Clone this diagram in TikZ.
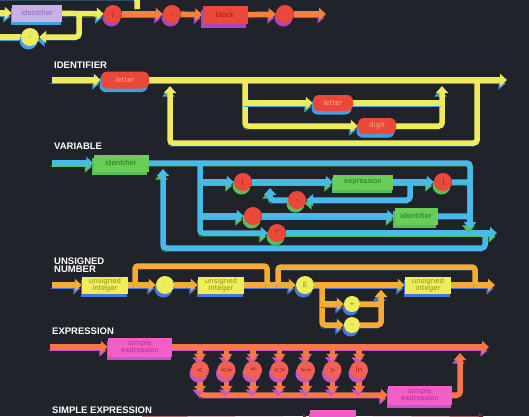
\documentclass[tikz,border=0pt]{standalone}
\usepackage{fontspec}
\setmainfont{Liberation Sans}
\newfontfamily\termfamily{DejaVu Sans}
\usetikzlibrary{arrows.meta, shadows}
\definecolor{boarddark}{RGB}{33,35,42}
\definecolor{lemonline}{RGB}{238,236,92}
\definecolor{skyshade}{RGB}{64,160,228}
\definecolor{tangerine}{RGB}{250,128,60}
\definecolor{plumshade}{RGB}{170,70,190}
\definecolor{tomato}{RGB}{236,72,58}
\definecolor{tomatoink}{RGB}{150,25,25}
\definecolor{lettertext}{RGB}{255,175,140}
\definecolor{lavender}{RGB}{200,175,232}
\definecolor{lavenderink}{RGB}{140,95,185}
\definecolor{cyanline}{RGB}{72,186,232}
\definecolor{leafshade}{RGB}{84,190,92}
\definecolor{leafbox}{RGB}{104,206,86}
\definecolor{leafink}{RGB}{40,110,40}
\definecolor{amberline}{RGB}{246,172,52}
\definecolor{navyshade}{RGB}{70,120,215}
\definecolor{lemonbox}{RGB}{238,238,90}
\definecolor{oliveink}{RGB}{140,140,40}
\definecolor{coralline}{RGB}{250,118,72}
\definecolor{magentashade}{RGB}{196,86,200}
\definecolor{pinkbox}{RGB}{240,96,200}
\definecolor{pinkink}{RGB}{175,40,150}
\definecolor{coraltok}{RGB}{240,96,84}
\definecolor{seline}{RGB}{150,40,40}
\newcommand{\headfont}{\bfseries\fontsize{9.5}{8.5}\selectfont}
\newcommand{\termfont}{\termfamily\fontsize{7}{6.8}\selectfont}
\pgfdeclarelayer{board}
\pgfdeclarelayer{wires}
\pgfsetlayers{board,wires,main}
\tikzset{
  band/.style 2 args={draw=#1, line width=5.5pt, rounded corners=3pt,
    preaction={draw=#2, transform canvas={shift={(-1.5pt,-3.5pt)}}}},
  yband/.style={band={lemonline}{skyshade}},
  oband/.style={band={tangerine}{plumshade}},
  cband/.style={band={cyanline}{leafshade}},
  nband/.style={band={amberline}{navyshade}},
  eband/.style={band={coralline}{magentashade}},
  go/.style={-{Triangle[length=7pt,width=12pt]}},
  castshade/.style={drop shadow={shadow xshift=-1.5pt, shadow yshift=-3.5pt, opacity=1, fill=#1}},
  termbox/.style 2 args={rectangle, minimum height=17pt, inner sep=1pt, align=center,
    fill=#1, castshade=#2, font=\termfont},
  letterbox/.style={termbox={tomato}{skyshade}, rounded corners=6pt, text=lettertext},
  greenbox/.style={termbox={leafbox}{leafshade}, text=leafink},
  intbox/.style={termbox={lemonbox}{navyshade}, minimum width=46pt, text=oliveink},
  sebox/.style={termbox={pinkbox}{magentashade}, minimum width=64pt, minimum height=19pt, text=pinkink},
  tok/.style 2 args={circle, minimum size=18pt, inner sep=0pt, fill=#1, castshade=#2, font=\termfont},
  heading/.style={anchor=west, align=left, inner sep=0pt, text=white, font=\headfont}
}
\begin{document}
\begin{tikzpicture}[x=1pt, y=-1pt]
  \begin{pgfonlayer}{board}
    \fill[boarddark] (0,0) rectangle (529,416);
  \end{pgfonlayer}
  \useasboundingbox (0,0) rectangle (529,416);

  % program (tail, cut by the top edge)
  \node[termbox={lavender}{skyshade}, minimum width=50pt, text=lavenderink] (progid) at (37,13) {identifier};
  \node[tok={lemonline}{skyshade}, text=oliveink] (progcomma) at (30,37) {,};
  \node[tok={tomato}{plumshade}, text=tomatoink] (progrpar) at (113,14) {)};
  \node[tok={tomato}{plumshade}, text=tomatoink] (progsemi) at (172,14) {;};
  \node[termbox={tomato}{plumshade}, minimum width=45pt, minimum height=18pt, text=tomatoink] (progblock) at (225,15) {block};
  \node[tok={tomato}{plumshade}, text=tomatoink] (progdot) at (285,14) {.};
  \coordinate (progin) at (-2,13);
  \coordinate (progloop) at (79,13);
  \coordinate (progcommaout) at (-2,37);
  \coordinate (progtop) at (-2,-3);
  \coordinate (progdrop) at (137,9);
  \coordinate (progout) at (326,14);
  \begin{pgfonlayer}{wires}
    \draw[yband, go] (progin) -- (progid);
    \draw[yband, go] (progid) -- (progrpar);
    \draw[yband, go] (progloop) |- (progcomma);
    \draw[yband] (progcomma) -- (progcommaout);
    \draw[yband] (progtop) -| (progdrop);
    \draw[oband, go] (progrpar) -- (progsemi);
    \draw[oband, go] (progsemi) -- (progblock);
    \draw[oband, go] (progblock) -- (progdot);
    \draw[oband, go] (progdot) -- (progout);
  \end{pgfonlayer}

  % identifier
  \node[heading] (identhead) at (54,65) {IDENTIFIER};
  \node[letterbox, minimum width=48pt] (identletter) at (125,80) {letter};
  \node[letterbox, minimum width=40pt, minimum height=16pt] (identletterb) at (333,103) {letter};
  \node[letterbox, minimum width=38pt, minimum height=16pt] (identdigit) at (377,126) {digit};
  \coordinate (identin) at (52,80);
  \coordinate (identout) at (507,80);
  \coordinate (identsplit) at (245,80);
  \coordinate (identjoin) at (442,86);
  \coordinate (identback) at (477,80);
  \coordinate (identbottom) at (170,143);
  \coordinate (identreturn) at (170,86);
  \begin{pgfonlayer}{wires}
    \draw[yband, go] (identin) -- (identletter);
    \draw[yband, go] (identletter) -- (identout);
    \draw[yband, go] (identsplit) |- (identdigit);
    \draw[yband, go] (identsplit |- identletterb) -- (identletterb);
    \draw[yband, go] (identdigit) -| (identjoin);
    \draw[yband] (identletterb) -- (identletterb -| identjoin);
    \draw[yband, go] (identback) |- (identbottom) -- (identreturn);
  \end{pgfonlayer}

  % variable
  \node[heading] (varhead) at (54,146) {VARIABLE};
  \node[greenbox, minimum width=55pt] (varid) at (121,163) {identifier};
  \node[tok={tomato}{leafshade}, text=tomatoink] (varlbrack) at (243,182) {[};
  \node[greenbox, minimum width=60pt, minimum height=15pt] (varexpr) at (363,182) {expression};
  \node[tok={tomato}{leafshade}, text=tomatoink] (varrbrack) at (443,182) {]};
  \node[tok={tomato}{leafshade}, text=tomatoink] (varcomma) at (297,200) {,};
  \node[tok={tomato}{leafshade}, text=tomatoink] (vardot) at (253,216) {.};
  \node[greenbox, minimum width=43pt] (varfield) at (416,216) {identifier};
  \node[tok={tomato}{leafshade}, text=tomatoink] (varptr) at (277,233) {$\uparrow$};
  \coordinate (varin) at (52,163);
  \coordinate (varout) at (497,233);
  \coordinate (varsplit) at (200,163);
  \coordinate (varmerge) at (470,229);
  \coordinate (varcommasplit) at (410,182);
  \coordinate (varcommaret) at (270,188);
  \coordinate (varback) at (485,233);
  \coordinate (varbottom) at (163,248);
  \coordinate (varreturn) at (163,169);
  \begin{pgfonlayer}{wires}
    \draw[cband, go] (varin) -- (varid);
    \draw[cband, go] (varid) -| (varmerge);
    \draw[cband, go] (varsplit) |- (varptr);
    \draw[cband, go] (varptr) -- (varout);
    \draw[cband, go] (varsplit |- varlbrack) -- (varlbrack);
    \draw[cband, go] (varlbrack) -- (varexpr);
    \draw[cband, go] (varexpr) -- (varrbrack);
    \draw[cband, go] (varrbrack) -| (varmerge);
    \draw[cband, go] (varcommasplit) |- (varcomma);
    \draw[cband, go] (varcomma) -| (varcommaret);
    \draw[cband, go] (varsplit |- vardot) -- (vardot);
    \draw[cband, go] (vardot) -- (varfield);
    \draw[cband, go] (varfield) -| (varmerge);
    \draw[cband, go] (varback) |- (varbottom) -- (varreturn);
  \end{pgfonlayer}

  % unsigned number
  \node[heading] (numhead) at (54,265) {UNSIGNED\\NUMBER};
  \node[intbox] (numint) at (105,285) {unsigned\\integer};
  \node[tok={lemonbox}{navyshade}, text=oliveink] (numpoint) at (165,285) {.};
  \node[intbox] (numfrac) at (221,285) {unsigned\\integer};
  \node[tok={lemonbox}{navyshade}, text=oliveink] (numexp) at (305,285) {E};
  \node[tok={lemonbox}{navyshade}, minimum size=16pt, text=oliveink] (numplus) at (352,304) {+};
  \node[tok={lemonbox}{navyshade}, minimum size=16pt, text=oliveink] (numminus) at (352,325) {$-$};
  \node[intbox] (numscale) at (428,285) {unsigned\\integer};
  \coordinate (numin) at (52,285);
  \coordinate (numout) at (495,285);
  \coordinate (numskipa) at (135,285);
  \coordinate (numarcha) at (200,266);
  \coordinate (numskipb) at (267,285);
  \coordinate (numskipc) at (278,285);
  \coordinate (numarchb) at (380,267);
  \coordinate (numskipd) at (475,285);
  \coordinate (numsignsplit) at (322,285);
  \coordinate (numsignjoin) at (381,290);
  \begin{pgfonlayer}{wires}
    \draw[nband, go] (numin) -- (numint);
    \draw[nband, go] (numint) -- (numpoint);
    \draw[nband, go] (numpoint) -- (numfrac);
    \draw[nband, go] (numfrac) -- (numexp);
    \draw[nband, go] (numexp) -- (numscale);
    \draw[nband, go] (numscale) -- (numout);
    \draw[nband] (numskipa) |- (numarcha) -| (numskipb);
    \draw[nband] (numskipc) |- (numarchb) -| (numskipd);
    \draw[nband, go] (numsignsplit) |- (numminus);
    \draw[nband, go] (numsignsplit |- numplus) -- (numplus);
    \draw[nband, go] (numplus) -| (numsignjoin);
    \draw[nband, go] (numminus) -| (numsignjoin);
  \end{pgfonlayer}

  % expression
  \node[heading] (exprhead) at (52,331) {EXPRESSION};
  \node[sebox] (exprleft) at (140,347) {simple\\expression};
  \foreach \op [count=\i] in {<,<=,=,<>,>=,>,in}
    \node[tok={coraltok}{magentashade}, text=tomatoink] (exprop\i) at ({173.5+26.5*\i},370) {\op};
  \node[sebox] (exprright) at (420,395) {simple\\expression};
  \coordinate (exprin) at (50,347);
  \coordinate (exprout) at (489,347);
  \coordinate (exprret) at (460,353);
  \begin{pgfonlayer}{wires}
    \draw[eband, go] (exprin) -- (exprleft);
    \draw[eband, go] (exprleft) -- (exprout);
    \draw[eband, go] (exprop1) |- (exprright);
    \foreach \i in {1,...,7} {
      \draw[eband, go] (exprop\i |- exprin) -- (exprop\i);
      \draw[eband, go, shorten >=2pt] (exprop\i) -- (exprop\i |- exprright);
    }
    \draw[eband, go] (exprright) -| (exprret);
  \end{pgfonlayer}

  % simple expression (cut by the bottom edge)
  \node[heading] (sehead) at (52,410) {SIMPLE EXPRESSION};
  \node[termbox={pinkbox}{magentashade}, minimum width=46pt, minimum height=20pt] (seterm) at (333,420) {};
  \coordinate (sein) at (142,419);
  \coordinate (seout) at (486,419);
  \begin{pgfonlayer}{wires}
    \draw[band={seline}{magentashade}, go] (sein) -- (seterm);
    \draw[band={seline}{magentashade}, go] (seterm) -- (seout);
  \end{pgfonlayer}
\end{tikzpicture}
\end{document}
